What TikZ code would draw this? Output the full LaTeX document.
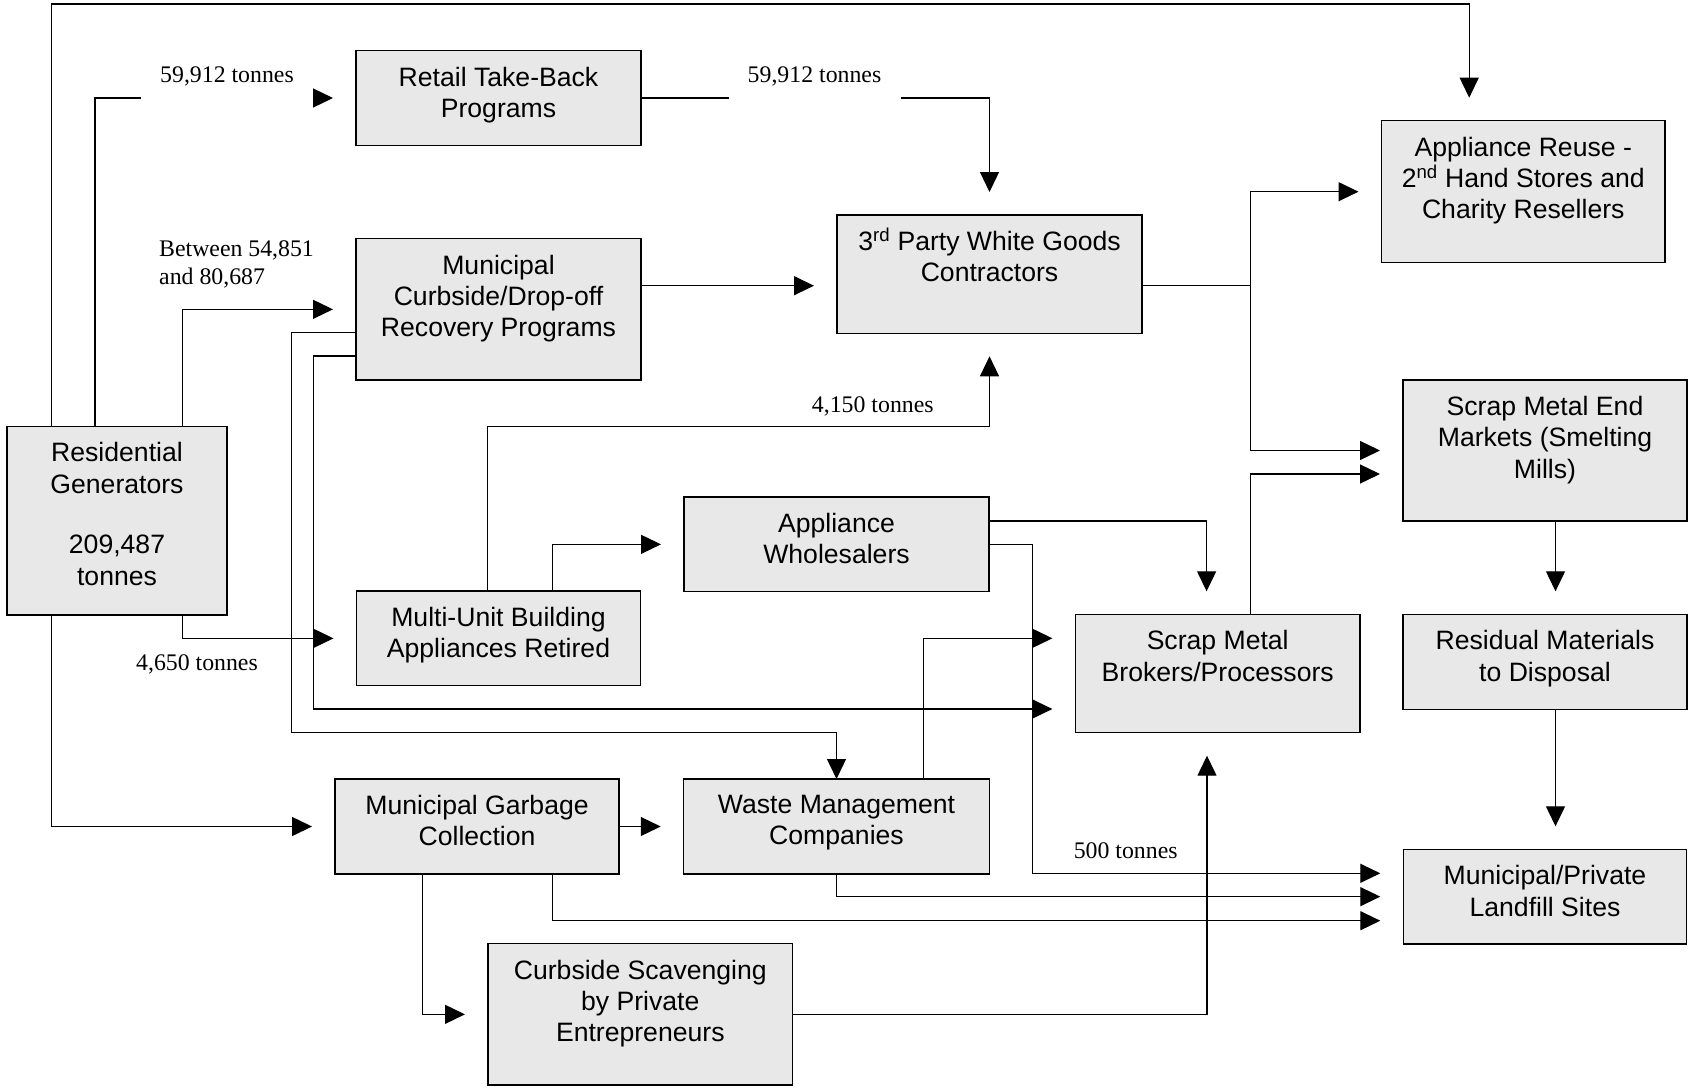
\documentclass[tikz,border=0pt]{standalone}
\usepackage{fontspec}
\setmainfont{Liberation Serif}
\setsansfont{Liberation Sans}
\usetikzlibrary{arrows.meta, positioning}
\definecolor{boxgray}{RGB}{232,232,232}

\begin{document}
\begin{tikzpicture}[
  x=1pt, y=-1pt,
  block/.style    = {draw, line width=1.3pt, fill=boxgray, inner sep=0pt, outer sep=0pt},
  boxtext/.style  = {anchor=north, yshift=-16pt, inner sep=0pt, align=center,
                     font=\sffamily\fontsize{26.6}{31.4}\selectfont},
  tonnes/.style   = {inner sep=0pt, font=\rmfamily\fontsize{23.8}{28}\selectfont},
  gaplabel/.style = {tonnes, fill=white, minimum width=172pt, minimum height=60pt},
  arrow/.style    = {line width=1.3pt, -{Triangle[length=20pt, width=19pt]}, shorten >=23pt},
  link/.style     = {line width=1.3pt}
]
  \useasboundingbox (0,0) rectangle (1697,1087);

  % Residential generators
  \node[block, minimum width=220pt, minimum height=188.5pt,
        label={[boxtext]north:{Residential\\Generators\\[29pt]209,487\\tonnes}}] (res) at (117,520.75) {};

  % Retail take-back
  \node[block, minimum width=285pt, minimum height=94.6pt,
        label={[boxtext]north:{Retail Take-Back\\Programs}}] (retail) at (498.5,98) {};

  % Curbside programs below retail
  \node[block, minimum width=285pt, minimum height=141.3pt, below=93.4pt of retail,
        label={[boxtext]north:{Municipal\\Curbside/Drop-off\\Recovery Programs}}] (curb) {};

  % Multi-unit below curbside
  \node[block, minimum width=284pt, minimum height=94.7pt, below=211pt of curb,
        label={[boxtext]north:{Multi-Unit Building\\Appliances Retired}}] (multi) {};

  % 3rd party contractors
  \node[block, minimum width=305pt, minimum height=118.3pt,
        label={[boxtext]north:{3\textsuperscript{\smash{rd}} Party White Goods\\Contractors}}] (third) at (989.5,274.15) {};

  % Wholesalers
  \node[block, minimum width=305pt, minimum height=94.7pt,
        label={[boxtext]north:{Appliance\\Wholesalers}}] (whole) at (836.5,544.35) {};

  % Waste management below wholesalers
  \node[block, minimum width=305.5pt, minimum height=95pt, below=187.3pt of whole,
        label={[boxtext]north:{Waste Management\\Companies}}] (waste) {};

  % Garbage collection left of waste
  \node[block, minimum width=284pt, minimum height=95pt, left=64.7pt of waste,
        label={[boxtext]north:{Municipal Garbage\\Collection}}] (garb) {};

  % Scavenging
  \node[block, minimum width=304.6pt, minimum height=141.3pt,
        label={[boxtext]north:{Curbside Scavenging\\by Private\\Entrepreneurs}}] (scav) at (640.3,1014.35) {};

  % Brokers
  \node[block, minimum width=284.6pt, minimum height=118.4pt,
        label={[boxtext]north:{Scrap Metal\\Brokers/Processors}}] (broker) at (1217.7,673.5) {};

  % Reuse
  \node[block, minimum width=283.5pt, minimum height=142pt,
        label={[boxtext]north:{Appliance Reuse -\\2\textsuperscript{\smash{nd}} Hand Stores and\\Charity Resellers}}] (reuse) at (1523.25,191.7) {};

  % End markets
  \node[block, minimum width=284pt, minimum height=141pt,
        label={[boxtext]north:{Scrap Metal End\\Markets (Smelting\\Mills)}}] (smelt) at (1545,450.5) {};

  % Residual below end markets
  \node[block, minimum width=284pt, minimum height=95pt, below=93.3pt of smelt,
        label={[boxtext]north:{Residual Materials\\to Disposal}}] (resid) {};

  % Landfill below residual
  \node[block, minimum width=283.4pt, minimum height=94.7pt, below=140pt of resid,
        label={[boxtext]north:{Municipal/Private\\Landfill Sites}}] (land) {};

  % Residential up and over to reuse
  \draw[arrow] (res.north -| 51.7,0) |- (1469.2,4) -- (reuse.north -| 1469.2,0);

  % Residential to retail, curbside, multi-unit, garbage
  \draw[arrow] (res.north -| 95,0) |- (retail.west);
  \draw[arrow] (res.north -| 182.3,0) |- (curb.west);
  \draw[arrow] (res.south -| 182.3,0) |- (multi.west);
  \draw[arrow] (res.south -| 51.7,0) |- (garb.west);

  % Retail to 3rd party
  \draw[arrow] (retail.east) -| (third.north);

  % Curbside to 3rd party, waste, brokers
  \draw[arrow] (curb.east |- 0,285.7) -- (third.west |- 0,285.7);
  \draw[arrow, shorten >=0pt] (curb.west |- 0,332.8) -| (291.7,732.3) -| (waste.north);
  \draw[arrow] (curb.west |- 0,356) -| (313.3,709) -- (broker.west |- 0,709);

  % 3rd party split to reuse and end markets
  \coordinate (split) at (1250.5,285.7);
  \draw[link] (third.east |- split) -- (split);
  \draw[arrow] (split) |- (reuse.west);
  \draw[arrow] (split) |- (smelt.west);

  % Multi-unit to 3rd party and wholesalers
  \draw[arrow] (multi.north -| 487.5,0) |- (third.south |- 0,426.7) -- (third.south);
  \draw[arrow] (multi.north -| 552.8,0) |- (whole.west);

  % Wholesalers to brokers and landfill
  \draw[arrow] (whole.east |- 0,521) -| (broker.north -| 1206.6,0);
  \draw[arrow] (whole.east) -| (1032.6,873.3) -- (land.west |- 0,873.3);

  % Waste to brokers
  \draw[arrow] (waste.north -| 923.7,0) |- (broker.west |- 0,638.3);

  % Brokers to end markets
  \draw[arrow] (broker.north -| 1250.5,0) |- (smelt.west |- 0,474);

  % End markets to residual to landfill
  \draw[arrow] (smelt.south -| 1555.5,0) -- (resid.north -| 1555.5,0);
  \draw[arrow] (resid.south -| 1555.5,0) -- (land.north -| 1555.5,0);

  % Garbage to waste, landfill, scavenging
  \draw[arrow] (garb.east) -- (waste.west);
  \draw[arrow] (waste.south) |- (land.west);
  \draw[arrow] (garb.south -| 552.7,0) |- (land.west |- 0,920.7);
  \draw[arrow] (garb.south -| 422.6,0) |- (scav.west);

  % Scavenging to brokers
  \draw[arrow] (scav.east) -| (broker.south -| 1207,0);

  % tonnage labels
  \node[gaplabel] (tretail) at (227,76.4) {59,912 tonnes};
  \node[gaplabel] (tthird) at (814.5,76.4) {59,912 tonnes};
  \node[tonnes, anchor=north west, align=left] (tcurb) at (159,240.8) {Between 54,851\\and 80,687};
  \node[tonnes] (tmulti) at (872.8,406.7) {4,150 tonnes};
  \node[tonnes] (tres) at (197,664.7) {4,650 tonnes};
  \node[tonnes] (twhole) at (1125.7,851) {500 tonnes};

\end{tikzpicture}
\end{document}
